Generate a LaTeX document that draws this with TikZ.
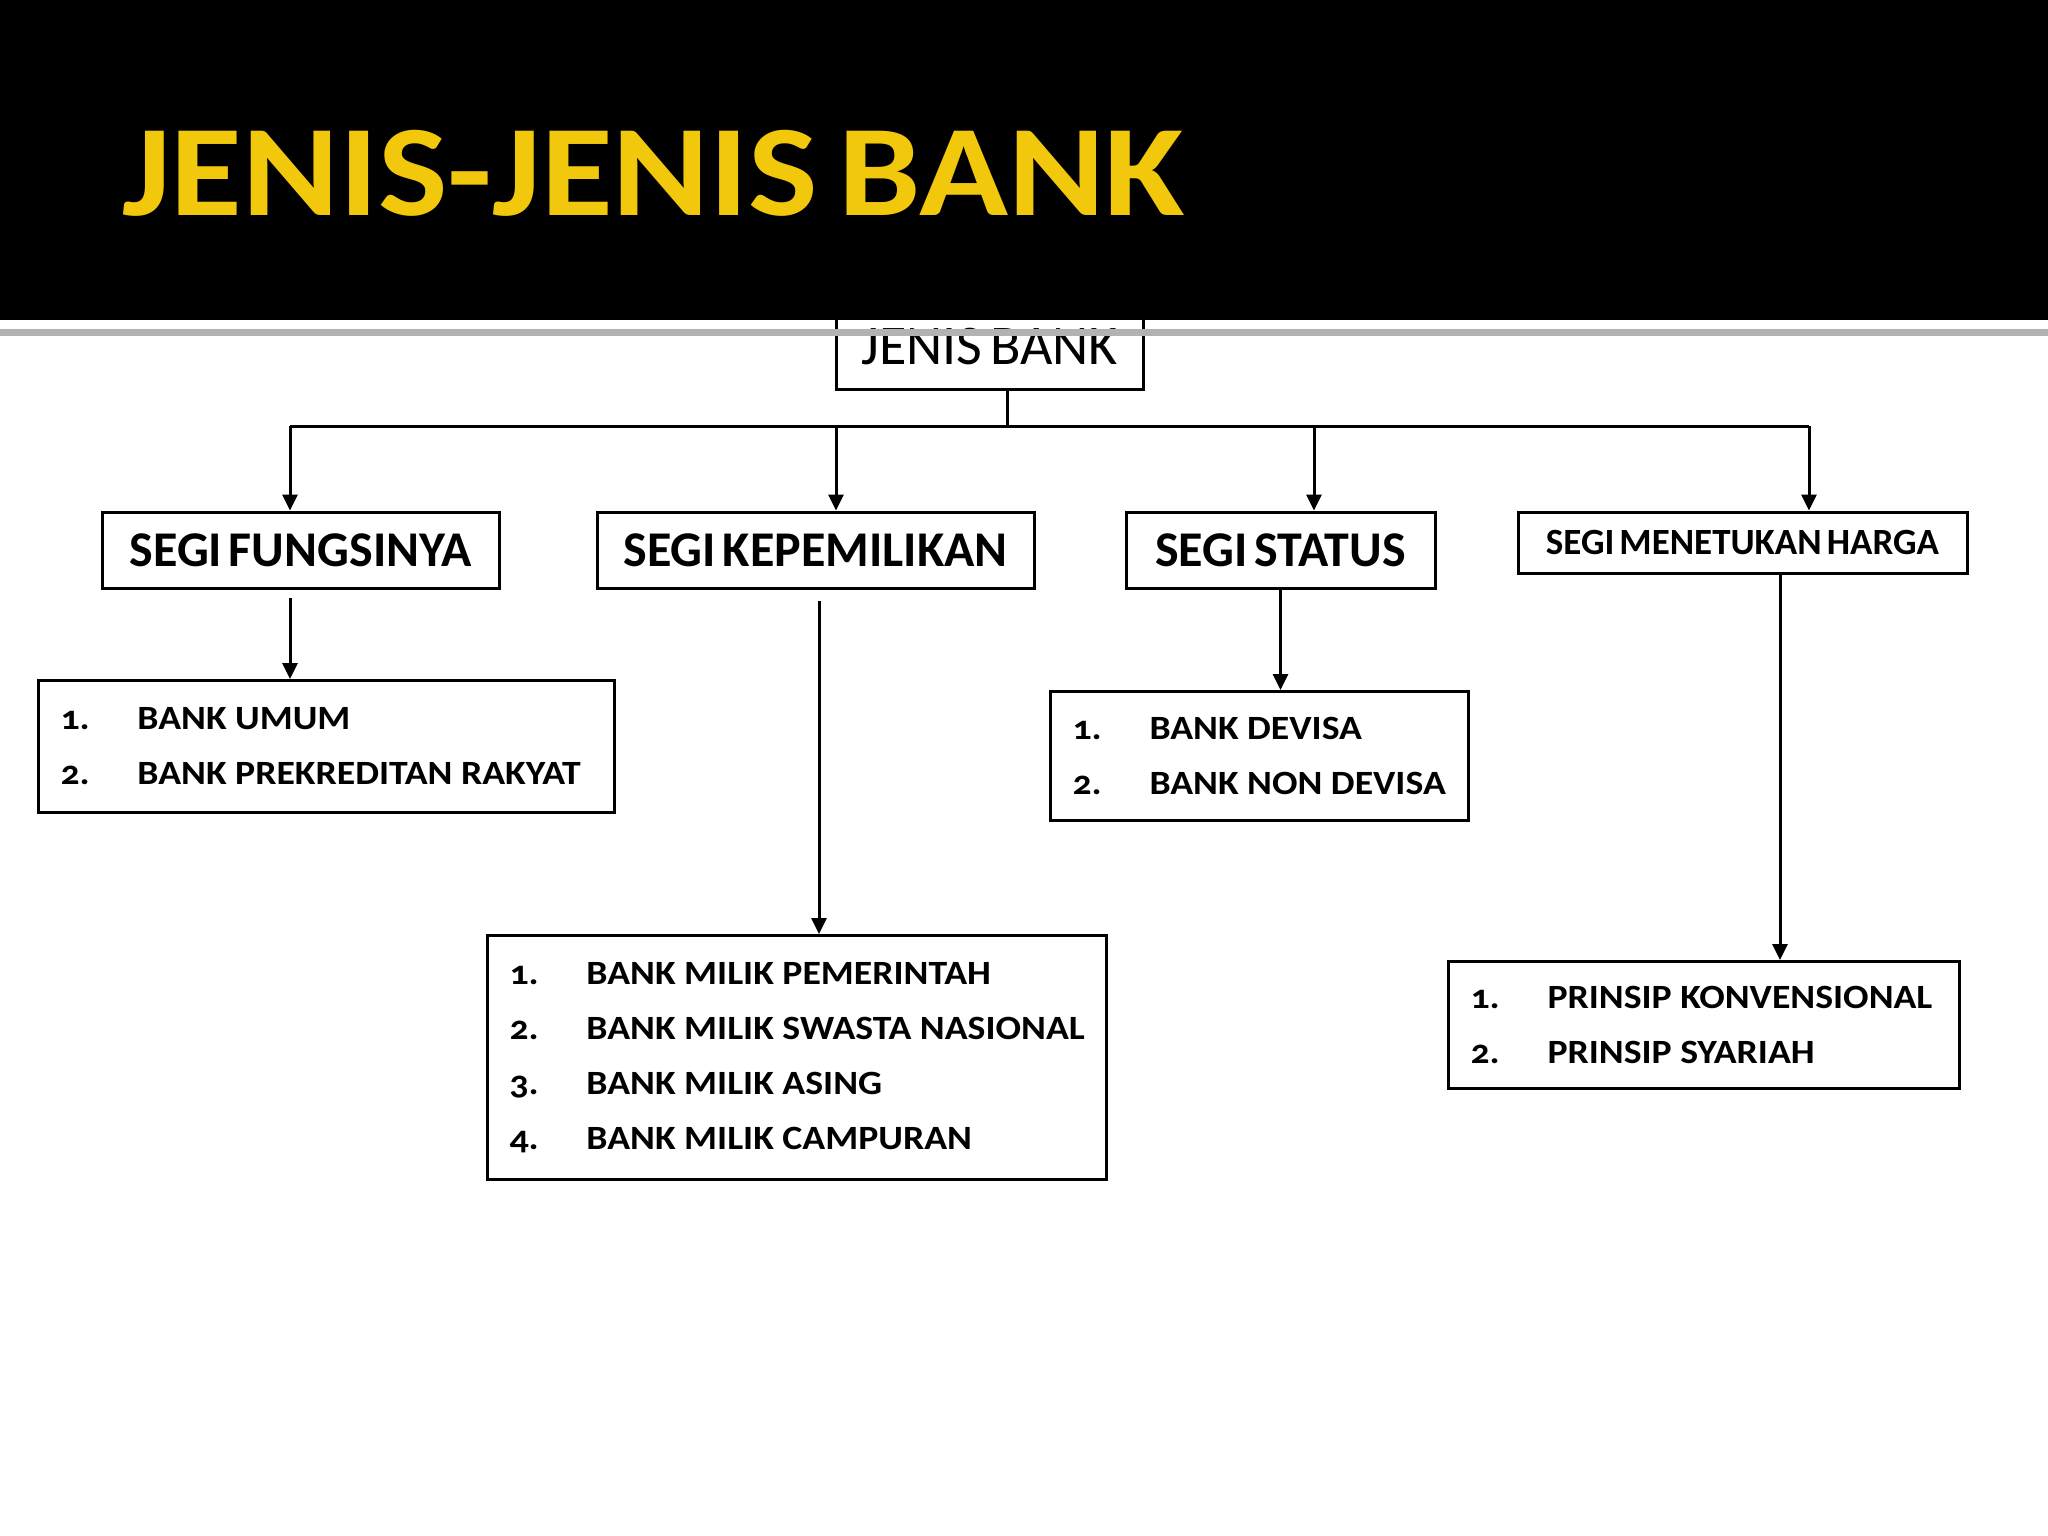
\documentclass[tikz,border=0pt]{standalone}
\usepackage{fontspec}
\setmainfont{Carlito}[Numbers=OldStyle, WordSpace=0.6]
\newfontfamily\listfont{Carlito}[Numbers=OldStyle, FakeStretch=1.11]
\usetikzlibrary{arrows.meta}
\definecolor{titlegold}{RGB}{242,200,12}
\newcommand{\butir}[2]{\mbox{\makebox[77pt][l]{#1}#2}}

\begin{document}
\begin{tikzpicture}[x=1pt,y=-1pt,
    kotak/.style={draw, line width=3pt, inner sep=0pt, font=\bfseries\fontsize{50}{58}\selectfont},
    daftar/.style={draw, line width=3pt, anchor=north west, inner xsep=22pt, inner ysep=0pt, align=flush left, font=\listfont\bfseries\fontsize{34}{55}\selectfont},
    panah/.style={line width=3pt, -{Triangle[length=16pt,width=15pt]}},
    garis/.style={line width=3pt}]
  \useasboundingbox[fill=white] (0,0) rectangle (2048,1536);
  % kotak utama
  \node (atas) [draw, line width=3pt, minimum width=307pt, minimum height=84pt, inner sep=0pt,
    font=\fontsize{56}{64}\selectfont] at (989.5,347) {JENIS BANK};
  % segi
  \node (fungsi) [kotak, minimum width=397pt, minimum height=76pt] at (300.5,550) {SEGI FUNGSINYA};
  \node (milik) [kotak, minimum width=437pt, minimum height=76pt] at (815.5,550) {SEGI KEPEMILIKAN};
  \node (status) [kotak, minimum width=309pt, minimum height=76pt] at (1280.5,550) {SEGI STATUS};
  \node (harga) [kotak, minimum width=449pt, minimum height=61pt, font=\bfseries\fontsize{37}{44}\selectfont]
    at (1742.5,542.5) {SEGI MENETUKAN HARGA};
  % daftar
  \node (daftar1) [daftar, text width=532pt, minimum height=132pt] at (37,679)
    {\butir{1.}{BANK UMUM}\\ \butir{2.}{BANK PREKREDITAN RAKYAT}};
  \node (daftar2) [daftar, text width=575pt, minimum height=244pt] at (486,934)
    {\butir{1.}{BANK MILIK PEMERINTAH}\\ \butir{2.}{BANK MILIK SWASTA NASIONAL}\\
     \butir{3.}{BANK MILIK ASING}\\ \butir{4.}{BANK MILIK CAMPURAN}};
  \node (daftar3) [daftar, text width=374pt, minimum height=129pt] at (1049,690)
    {\butir{1.}{BANK DEVISA}\\ \butir{2.}{BANK NON DEVISA}};
  \node (daftar4) [daftar, text width=467pt, minimum height=127pt] at (1447,960)
    {\butir{1.}{PRINSIP KONVENSIONAL}\\ \butir{2.}{PRINSIP SYARIAH}};
  % garis penghubung
  \coordinate (bus) at (1007,426);
  \coordinate (c1) at (290,426);
  \coordinate (c2) at (836,426);
  \coordinate (c3) at (1314,426);
  \coordinate (c4) at (1809,426);
  \draw[garis] (bus |- atas.south) -- (bus);
  \draw[garis] (c1) -- (c4);
  \draw[panah] (c1) -- (c1 |- fungsi.north);
  \draw[panah] (c2) -- (c2 |- milik.north);
  \draw[panah] (c3) -- (c3 |- status.north);
  \draw[panah] (c4) -- (c4 |- harga.north);
  \coordinate (d1) at (290,598);
  \coordinate (d2) at (819,601);
  \coordinate (d4) at (1780,573);
  \draw[panah] (d1) -- (d1 |- daftar1.north);
  \draw[panah] (d2) -- (d2 |- daftar2.north);
  \draw[panah] (status.south) -- (status.south |- daftar3.north);
  \draw[panah] (d4) -- (d4 |- daftar4.north);
  % judul
  \fill[black] (0,0) rectangle (2048,320);
  \fill[gray!60] (0,329) rectangle (2048,336);
  \node (judul) [anchor=base west, inner sep=0pt, xscale=1.13, transform shape, text=titlegold,
    font=\bfseries\fontsize{130}{150}\selectfont] at (122,215) {JENIS-JENIS BANK};
\end{tikzpicture}
\end{document}
